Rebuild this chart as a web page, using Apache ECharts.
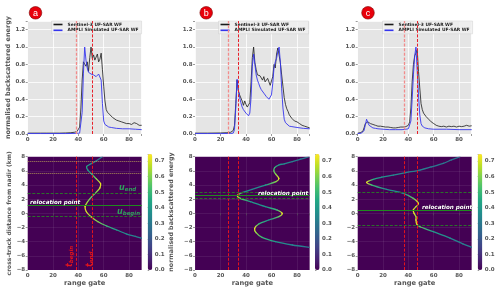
<!DOCTYPE html>
<html><head><meta charset="utf-8">
<script src="https://cdn.jsdelivr.net/npm/echarts@6/dist/echarts.min.js"></script>
<style>html,body{margin:0;padding:0;background:#fff}#c{width:500px;height:292px}</style>
</head><body><div id="c"></div>
<script>
// ---------- DATA ----------
const S3_NAME = 'Sentinel-3 UF-SAR WF';
const AMP_NAME = 'AMPLI Simulated UF-SAR WF';
const PANEL_LABELS = ['a', 'b', 'c'];
const X_TICKS = [0, 20, 40, 60, 80];

// top panels: [range gate, normalised energy]
const S3_A = [[0,0.01],[5,0.01],[10,0.01],[15,0.01],[20,0.01],[25,0.01],[30,0.012],[34,0.015],[37,0.02],[39,0.03],[40,0.04],[41,0.08],[42,0.3],[43,0.62],[44,0.83],[45,0.84],[46,0.78],[47,0.83],[48,0.72],[49,0.88],[50,1.0],[51,0.87],[52,0.91],[53,0.85],[54,0.86],[55,0.92],[56,0.83],[57,0.86],[58,0.93],[59,0.74],[60,0.55],[61,0.38],[62,0.28],[63,0.25],[64,0.23],[65,0.22],[66,0.2],[67,0.19],[68,0.18],[70,0.16],[72,0.15],[74,0.14],[75,0.145],[76,0.13],[78,0.12],[79,0.125],[80,0.12],[81,0.13],[82,0.11],[83,0.125],[84,0.13],[85,0.11],[86,0.12],[87,0.105],[88,0.1],[89,0.105],[90,0.1]];
const AMP_A = [[0,0.005],[10,0.005],[20,0.005],[30,0.005],[38,0.007],[41,0.01],[42,0.03],[43,0.25],[44,0.7],[45,1.0],[46,0.85],[47,0.76],[48,0.71],[49,0.7],[50,0.69],[52,0.68],[54,0.66],[55,0.65],[56,0.69],[57,0.71],[58,0.62],[59,0.35],[60,0.15],[61,0.11],[62,0.09],[64,0.08],[66,0.075],[70,0.065],[75,0.06],[80,0.06],[85,0.055],[90,0.05]];
const S3_B = [[0,0.01],[10,0.01],[20,0.012],[25,0.015],[28,0.02],[30,0.04],[31,0.1],[32,0.35],[33,0.62],[34,0.5],[35,0.45],[36,0.43],[37,0.38],[38,0.33],[39,0.38],[40,0.34],[41,0.31],[42,0.31],[43,0.36],[44,0.6],[45,0.88],[46,1.0],[47,0.82],[48,0.74],[49,0.68],[50,0.7],[51,0.67],[52,0.65],[53,0.62],[54,0.66],[55,0.6],[56,0.58],[57,0.64],[58,0.6],[59,0.56],[60,0.54],[61,0.66],[62,0.8],[63,0.76],[64,0.92],[65,0.99],[66,0.97],[67,0.82],[68,0.68],[69,0.55],[70,0.42],[71,0.34],[72,0.29],[73,0.26],[74,0.22],[75,0.2],[76,0.18],[77,0.17],[78,0.15],[79,0.14],[80,0.14],[81,0.12],[82,0.12],[83,0.11],[84,0.1],[85,0.1],[86,0.09],[87,0.08],[88,0.08],[89,0.07],[90,0.07]];
const AMP_B = [[0,0.005],[10,0.005],[20,0.005],[28,0.006],[30,0.01],[31,0.05],[32,0.3],[33,0.63],[34,0.5],[35,0.42],[36,0.36],[37,0.31],[38,0.28],[39,0.26],[40,0.24],[41,0.22],[42,0.21],[43,0.24],[44,0.42],[45,0.78],[46,0.92],[47,0.8],[48,0.68],[49,0.62],[50,0.58],[51,0.54],[52,0.51],[53,0.49],[54,0.47],[55,0.45],[56,0.43],[57,0.41],[58,0.4],[59,0.41],[60,0.45],[61,0.58],[62,0.76],[63,0.83],[64,0.87],[65,0.95],[66,1.0],[67,0.82],[68,0.52],[69,0.3],[70,0.17],[71,0.13],[72,0.11],[74,0.09],[76,0.085],[80,0.075],[85,0.065],[90,0.06]];
const S3_C = [[0,0.01],[2,0.015],[4,0.03],[5,0.07],[6,0.12],[7,0.13],[8,0.14],[9,0.12],[10,0.12],[11,0.11],[12,0.11],[14,0.1],[16,0.09],[18,0.09],[20,0.085],[22,0.08],[24,0.08],[26,0.075],[28,0.07],[30,0.07],[32,0.075],[34,0.08],[35,0.07],[36,0.08],[37,0.075],[38,0.085],[39,0.09],[40,0.1],[41,0.14],[42,0.3],[43,0.6],[44,0.8],[45,0.9],[46,0.93],[47,0.97],[48,0.72],[49,0.53],[50,0.35],[51,0.28],[52,0.24],[53,0.22],[54,0.2],[55,0.18],[56,0.17],[57,0.15],[58,0.14],[60,0.12],[62,0.1],[64,0.09],[66,0.085],[68,0.09],[70,0.08],[72,0.09],[74,0.085],[76,0.09],[78,0.08],[80,0.09],[82,0.085],[84,0.09],[86,0.1],[88,0.09],[90,0.095]];
const AMP_C = [[0,0.005],[3,0.01],[5,0.04],[6,0.1],[7,0.17],[8,0.13],[9,0.1],[10,0.085],[12,0.07],[14,0.065],[16,0.06],[20,0.055],[25,0.05],[30,0.05],[35,0.05],[38,0.055],[40,0.06],[41,0.08],[42,0.15],[43,0.4],[44,0.68],[45,0.9],[46,1.0],[47,0.72],[48,0.45],[49,0.22],[50,0.12],[51,0.09],[53,0.07],[56,0.06],[60,0.055],[70,0.055],[80,0.05],[90,0.05]];

// bottom panels: [range gate, cross-track distance (km), normalised energy]
const TRK_A = [[59,8.0,0.3],[54,7.4,0.32],[49,6.9,0.38],[46.5,6.6,0.45],[47.5,6.1,0.4],[50.5,5.55,0.45],[54,4.9,0.6],[57.5,4.2,0.72],[57,3.6,0.7],[54.5,3.06,0.6],[50.5,2.35,0.55],[47.3,1.64,0.62],[45.3,0.94,0.72],[46.3,0.23,0.7],[50,-0.47,0.65],[55.5,-1.18,0.6],[62.4,-1.79,0.5],[70.3,-2.35,0.4],[78.2,-2.92,0.35],[85,-3.25,0.32],[90,-3.53,0.3]];
const TRK_B = [[89.5,8.0,0.3],[83,7.65,0.3],[76.4,7.3,0.32],[70,7.0,0.35],[65.8,6.83,0.4],[62.5,6.45,0.5],[61.9,6.0,0.55],[63.2,5.56,0.6],[65.8,4.94,0.72],[63.5,4.47,0.6],[55.3,4.0,0.4],[44.8,3.39,0.33],[36.9,2.92,0.4],[33.3,2.5,0.72],[35.5,2.12,0.55],[43.4,1.64,0.4],[55.3,0.94,0.38],[64.5,0.47,0.5],[68.4,0.0,0.72],[65.8,-0.47,0.55],[57.9,-0.94,0.38],[50,-1.5,0.5],[46.8,-2.12,0.72],[47.9,-2.73,0.62],[52.6,-3.39,0.5],[63.2,-4.0,0.4],[76.4,-4.47,0.33],[89.5,-4.8,0.3]];
const TRK_C = [[80.8,8.0,0.28],[74,7.55,0.28],[67.6,7.07,0.3],[58,6.55,0.3],[49.2,6.12,0.32],[38,5.75,0.33],[28.1,5.41,0.35],[19,5.1,0.38],[12.3,4.8,0.45],[7.1,4.38,0.72],[11.1,4.0,0.5],[22.9,3.39,0.35],[36,2.83,0.38],[43.9,2.12,0.55],[47.9,1.42,0.72],[46,0.94,0.65],[43.9,0.47,0.72],[44.5,0.0,0.7],[46,-0.47,0.65],[46,-0.94,0.72],[46.6,-1.5,0.7],[49.2,-1.89,0.55],[59.7,-2.59,0.4],[72.9,-3.5,0.35],[83,-4.3,0.32],[90,-4.8,0.3]];

// marker lines
const T_LINES = [[38, 51], [26, 34], [37, 47]];            // t_begin, t_end (range gate)
const U_DASHED = [[2.83, -0.47], [2.95, 2.12], [2.92, -1.69]]; // u_end, u_begin (km)
const RELOC = [1.08, 2.52, 0.43];                             // relocation point (km)
const EXTRA_DOTTED_A = [7.42, 5.65];
const CB_MAX = 0.745;

// ---------- LAYOUT ----------
const FONT = 'DejaVu Sans';
const GRAY = '#555';
const LEFTS = [27.7, 195, 357.7];
const WIDTHS = [114, 114.7, 114];
const CB_LEFTS = [147.7, 315, 477.7];
const VIR = ['#440154','#482475','#414487','#355f8d','#2a788e','#21918c','#22a884','#44bf70','#7ad151','#bddf26','#fde725'];

const grids = [];
for (let i = 0; i < 3; i++) grids.push({left: LEFTS[i], top: 21, width: WIDTHS[i], height: 113, show: true, backgroundColor: '#e5e5e5', borderWidth: 0, containLabel: false, outerBoundsMode: 'none'});
for (let i = 0; i < 3; i++) grids.push({left: LEFTS[i], top: 156.7, width: WIDTHS[i], height: 113.3, show: true, backgroundColor: '#440154', borderWidth: 0, containLabel: false, outerBoundsMode: 'none'});
for (let i = 0; i < 3; i++) grids.push({left: CB_LEFTS[i], top: 154, width: 4.6, height: 116, show: false, containLabel: false, outerBoundsMode: 'none'});

const lab = (extra) => Object.assign({fontSize: 5.5, fontWeight: 'bold', color: GRAY, fontFamily: FONT}, extra || {});
const xFmt = v => X_TICKS.indexOf(v) >= 0 ? String(v) : '';

const xAxes = [], yAxes = [];
for (let i = 0; i < 3; i++) {
  xAxes.push({gridIndex: i, type: 'value', min: 0, max: 90, interval: 20,
    axisLine: {show: false}, axisTick: {show: true, length: 2, lineStyle: {color: GRAY, width: 0.6}},
    axisLabel: lab({margin: 3, formatter: xFmt}),
    splitLine: {show: true, lineStyle: {color: '#fff', width: 0.8}}});
  yAxes.push({gridIndex: i, type: 'value', min: 0, max: 1.3, interval: 0.2,
    axisLine: {show: false}, axisTick: {show: true, length: 2, lineStyle: {color: GRAY, width: 0.6}},
    axisLabel: lab({margin: 2.5, formatter: v => (Math.round(v * 10) % 2 === 0) ? v.toFixed(1) : ''}),
    splitLine: {show: true, lineStyle: {color: '#fff', width: 0.8}},
    name: i === 0 ? 'normalised backscattered energy' : '', nameLocation: 'middle', nameGap: 15.5, nameRotate: 90,
    nameTextStyle: {fontSize: 6.5, fontWeight: 'bold', color: GRAY, fontFamily: FONT}});
}
for (let i = 0; i < 3; i++) {
  xAxes.push({gridIndex: 3 + i, type: 'value', min: 0, max: 90, interval: 20,
    axisLine: {show: false}, axisTick: {show: true, length: 2, lineStyle: {color: GRAY, width: 0.6}},
    axisLabel: lab({margin: 3, formatter: xFmt}),
    splitLine: {show: true, lineStyle: {color: 'rgba(255,255,255,0.13)', width: 0.6}},
    name: 'range gate', nameLocation: 'middle', nameGap: 10,
    nameTextStyle: {fontSize: 6.7, fontWeight: 'bold', color: GRAY, fontFamily: FONT}});
  yAxes.push({gridIndex: 3 + i, type: 'value', min: -8, max: 8, interval: 2,
    axisLine: {show: false}, axisTick: {show: true, length: 2, lineStyle: {color: GRAY, width: 0.6}},
    axisLabel: lab({margin: 2.5, formatter: v => v < 0 ? '\u2212' + (-v) : String(v)}),
    splitLine: {show: true, lineStyle: {color: 'rgba(255,255,255,0.13)', width: 0.6}},
    name: i === 0 ? 'cross-track distance from nadir (km)' : '', nameLocation: 'middle', nameGap: 14.5, nameRotate: 90,
    nameTextStyle: {fontSize: 6.0, fontWeight: 'bold', color: GRAY, fontFamily: FONT}});
}
for (let i = 0; i < 3; i++) {
  xAxes.push({gridIndex: 6 + i, type: 'value', min: 0, max: 1, show: false});
  yAxes.push({gridIndex: 6 + i, type: 'value', min: 0, max: CB_MAX, interval: 0.1, position: 'right',
    axisLine: {show: false}, axisTick: {show: true, length: 1.5, lineStyle: {color: GRAY, width: 0.6}},
    axisLabel: lab({margin: 2.5, formatter: v => Math.abs(v * 10 - Math.round(v * 10)) < 1e-6 ? v.toFixed(1) : ''}),
    splitLine: {show: false},
    name: i === 0 ? 'normalised backscattered energy' : '', nameLocation: 'middle', nameGap: 16.5, nameRotate: 90,
    nameTextStyle: {fontSize: 6.3, fontWeight: 'bold', color: GRAY, fontFamily: FONT}});
}

const TOP = [[S3_A, AMP_A], [S3_B, AMP_B], [S3_C, AMP_C]];
const TRKS = [TRK_A, TRK_B, TRK_C];
const series = [];
const mlBase = {symbol: ['none', 'none'], silent: true, animation: false, label: {show: false}};
for (let i = 0; i < 3; i++) {
  series.push({name: S3_NAME, type: 'line', xAxisIndex: i, yAxisIndex: i, data: TOP[i][0], showSymbol: false,
    color: '#1a1a1a', lineStyle: {color: '#1a1a1a', width: 0.8}, animation: false, z: 3,
    markLine: Object.assign({}, mlBase, {data: [
      {xAxis: T_LINES[i][0], lineStyle: {color: '#f28b8b', width: 1.3, type: [3, 1.6]}},
      {xAxis: T_LINES[i][1], lineStyle: {color: '#e8202a', width: 1, type: [3, 1.6]}}]})});
  series.push({name: AMP_NAME, type: 'line', xAxisIndex: i, yAxisIndex: i, data: TOP[i][1], showSymbol: false,
    color: '#3535ee', lineStyle: {color: '#3535ee', width: 0.9}, animation: false, z: 4});
}
function trackRenderer(track) {
  const n = track.length;
  const at = k => track[Math.max(0, Math.min(n - 1, k))];
  return function (params, api) {
    const i = params.dataIndex;
    if (i >= n - 1) return null;
    const P = k => api.coord([at(k)[0], at(k)[1]]);
    const p0 = P(i - 1), p1 = P(i), p2 = P(i + 1), p3 = P(i + 2);
    const c1x = p1[0] + (p2[0] - p0[0]) / 6, c1y = p1[1] + (p2[1] - p0[1]) / 6;
    const c2x = p2[0] - (p3[0] - p1[0]) / 6, c2y = p2[1] - (p3[1] - p1[1]) / 6;
    const col1 = echarts.color.lerp(Math.min(1, track[i][2] / CB_MAX), VIR);
    const col2 = echarts.color.lerp(Math.min(1, track[i + 1][2] / CB_MAX), VIR);
    return {type: 'bezierCurve',
      shape: {x1: p1[0], y1: p1[1], x2: p2[0], y2: p2[1], cpx1: c1x, cpy1: c1y, cpx2: c2x, cpy2: c2y},
      style: {fill: 'none', lineWidth: 1.3, lineCap: 'round',
        stroke: {type: 'linear', x: p1[0], y: p1[1], x2: p2[0] + 0.01, y2: p2[1] + 0.01, global: true,
          colorStops: [{offset: 0, color: col1}, {offset: 1, color: col2}]}}};
  };
}
for (let i = 0; i < 3; i++) {
  const lines = [
    {xAxis: T_LINES[i][0], lineStyle: {color: '#e3141c', width: 1, type: [3, 1.6]}},
    {xAxis: T_LINES[i][1], lineStyle: {color: '#e3141c', width: 1, type: [3, 1.6]}},
    {yAxis: U_DASHED[i][0], lineStyle: {color: '#2c6e2c', width: 1, type: [3, 1.6]}},
    {yAxis: U_DASHED[i][1], lineStyle: {color: '#2c6e2c', width: 1, type: [3, 1.6]}},
    {yAxis: RELOC[i], lineStyle: {color: '#1f8a1f', width: 1.1, type: 'solid'}}];
  if (i === 0) EXTRA_DOTTED_A.forEach(v => lines.push({yAxis: v, lineStyle: {color: '#c8b45a', width: 0.8, type: [1, 1]}}));
  series.push({type: 'custom', xAxisIndex: 3 + i, yAxisIndex: 3 + i, data: TRKS[i],
    dimensions: ['gate', 'dist', 'energy'], encode: {x: 0, y: 1}, clip: true, animation: false, z: 3,
    renderItem: trackRenderer(TRKS[i]),
    markLine: Object.assign({}, mlBase, {data: lines})});
}

const visualMap = [0, 1, 2].map(i => ({type: 'continuous', min: 0, max: CB_MAX, dimension: 2, seriesIndex: 6 + i,
  orient: 'vertical', left: CB_LEFTS[i], top: 154, itemWidth: 4.6, itemHeight: 116, padding: 0,
  calculable: false, text: null, hoverLink: false, inRange: {color: VIR}, textStyle: {fontSize: 1, color: 'rgba(0,0,0,0)'}}));

const LEG_LEFTS = [51.5, 218.5, 382.5];
const legend = [0, 1, 2].map(i => ({data: [S3_NAME, AMP_NAME], orient: 'vertical', left: LEG_LEFTS[i], top: 21,
  itemWidth: 9, itemHeight: 1.6, itemGap: 1.8, icon: 'rect', selectedMode: false,
  padding: [1.5, 3, 1.5, 2], backgroundColor: 'rgba(240,240,240,0.85)', borderColor: 'rgba(200,200,200,0.8)', borderWidth: 0.5,
  textStyle: {fontSize: 4.4, fontWeight: 'bold', color: '#222', fontFamily: FONT}}));

const RED = '#e0141c', GREEN = '#2f9e5b';
const relocStyle = {fill: '#fff', fontSize: 5.6, fontStyle: 'italic', fontWeight: 'bold', fontFamily: FONT,
  verticalAlign: 'middle', stroke: 'rgba(40,40,40,0.5)', lineWidth: 0.4};
const sub = (color, big, small) => ({
  m: {fontSize: big, fontStyle: 'italic', fontWeight: 'bold', fill: color, fontFamily: FONT, lineHeight: big + 2, verticalAlign: 'middle'},
  s: {fontSize: small, fontStyle: 'italic', fontWeight: 'bold', fill: color, fontFamily: FONT, lineHeight: small + 1, verticalAlign: 'bottom'}});
const graphic = [];
const CIRC = [[35.5, 12.8], [206.2, 12.8], [368, 12.8]];
CIRC.forEach((c, i) => {
  graphic.push({type: 'circle', shape: {cx: c[0], cy: c[1], r: 6.3}, style: {fill: '#e8000b', stroke: '#7a0000', lineWidth: 0.6}, z: 10});
  graphic.push({type: 'text', x: c[0], y: c[1] + 0.3, style: {text: PANEL_LABELS[i], fill: '#fff', fontSize: 9, fontFamily: 'Liberation Sans', align: 'center', verticalAlign: 'middle'}, z: 11});
});
graphic.push({type: 'text', x: 30, y: 202.5, style: Object.assign({text: 'relocation point'}, relocStyle), z: 10});
graphic.push({type: 'text', x: 258, y: 193.3, style: Object.assign({text: 'relocation point'}, relocStyle), z: 10});
graphic.push({type: 'text', x: 422, y: 207.5, style: Object.assign({text: 'relocation point'}, relocStyle), z: 10});
graphic.push({type: 'text', x: 119, y: 188, style: {text: '{m|u}{s|end}', rich: sub(GREEN, 8, 5.5), verticalAlign: 'middle'}, z: 10});
graphic.push({type: 'text', x: 117, y: 211.5, style: {text: '{m|u}{s|begin}', rich: sub(GREEN, 8, 5.5), verticalAlign: 'middle'}, z: 10});
graphic.push({type: 'text', x: 69.5, y: 267, rotation: Math.PI / 2, style: {text: '{m|t}{s|begin}', rich: sub(RED, 8, 5.5), verticalAlign: 'middle', align: 'left'}, z: 10});
graphic.push({type: 'text', x: 89.5, y: 267, rotation: Math.PI / 2, style: {text: '{m|t}{s|end}', rich: sub(RED, 8, 5.5), verticalAlign: 'middle', align: 'left'}, z: 10});

const chart = echarts.init(document.getElementById('c'), null, {renderer: 'canvas'});
chart.setOption({backgroundColor: '#fff', animation: false, grid: grids, xAxis: xAxes, yAxis: yAxes,
  series: series, visualMap: visualMap, legend: legend, graphic: graphic});
</script></body></html>
